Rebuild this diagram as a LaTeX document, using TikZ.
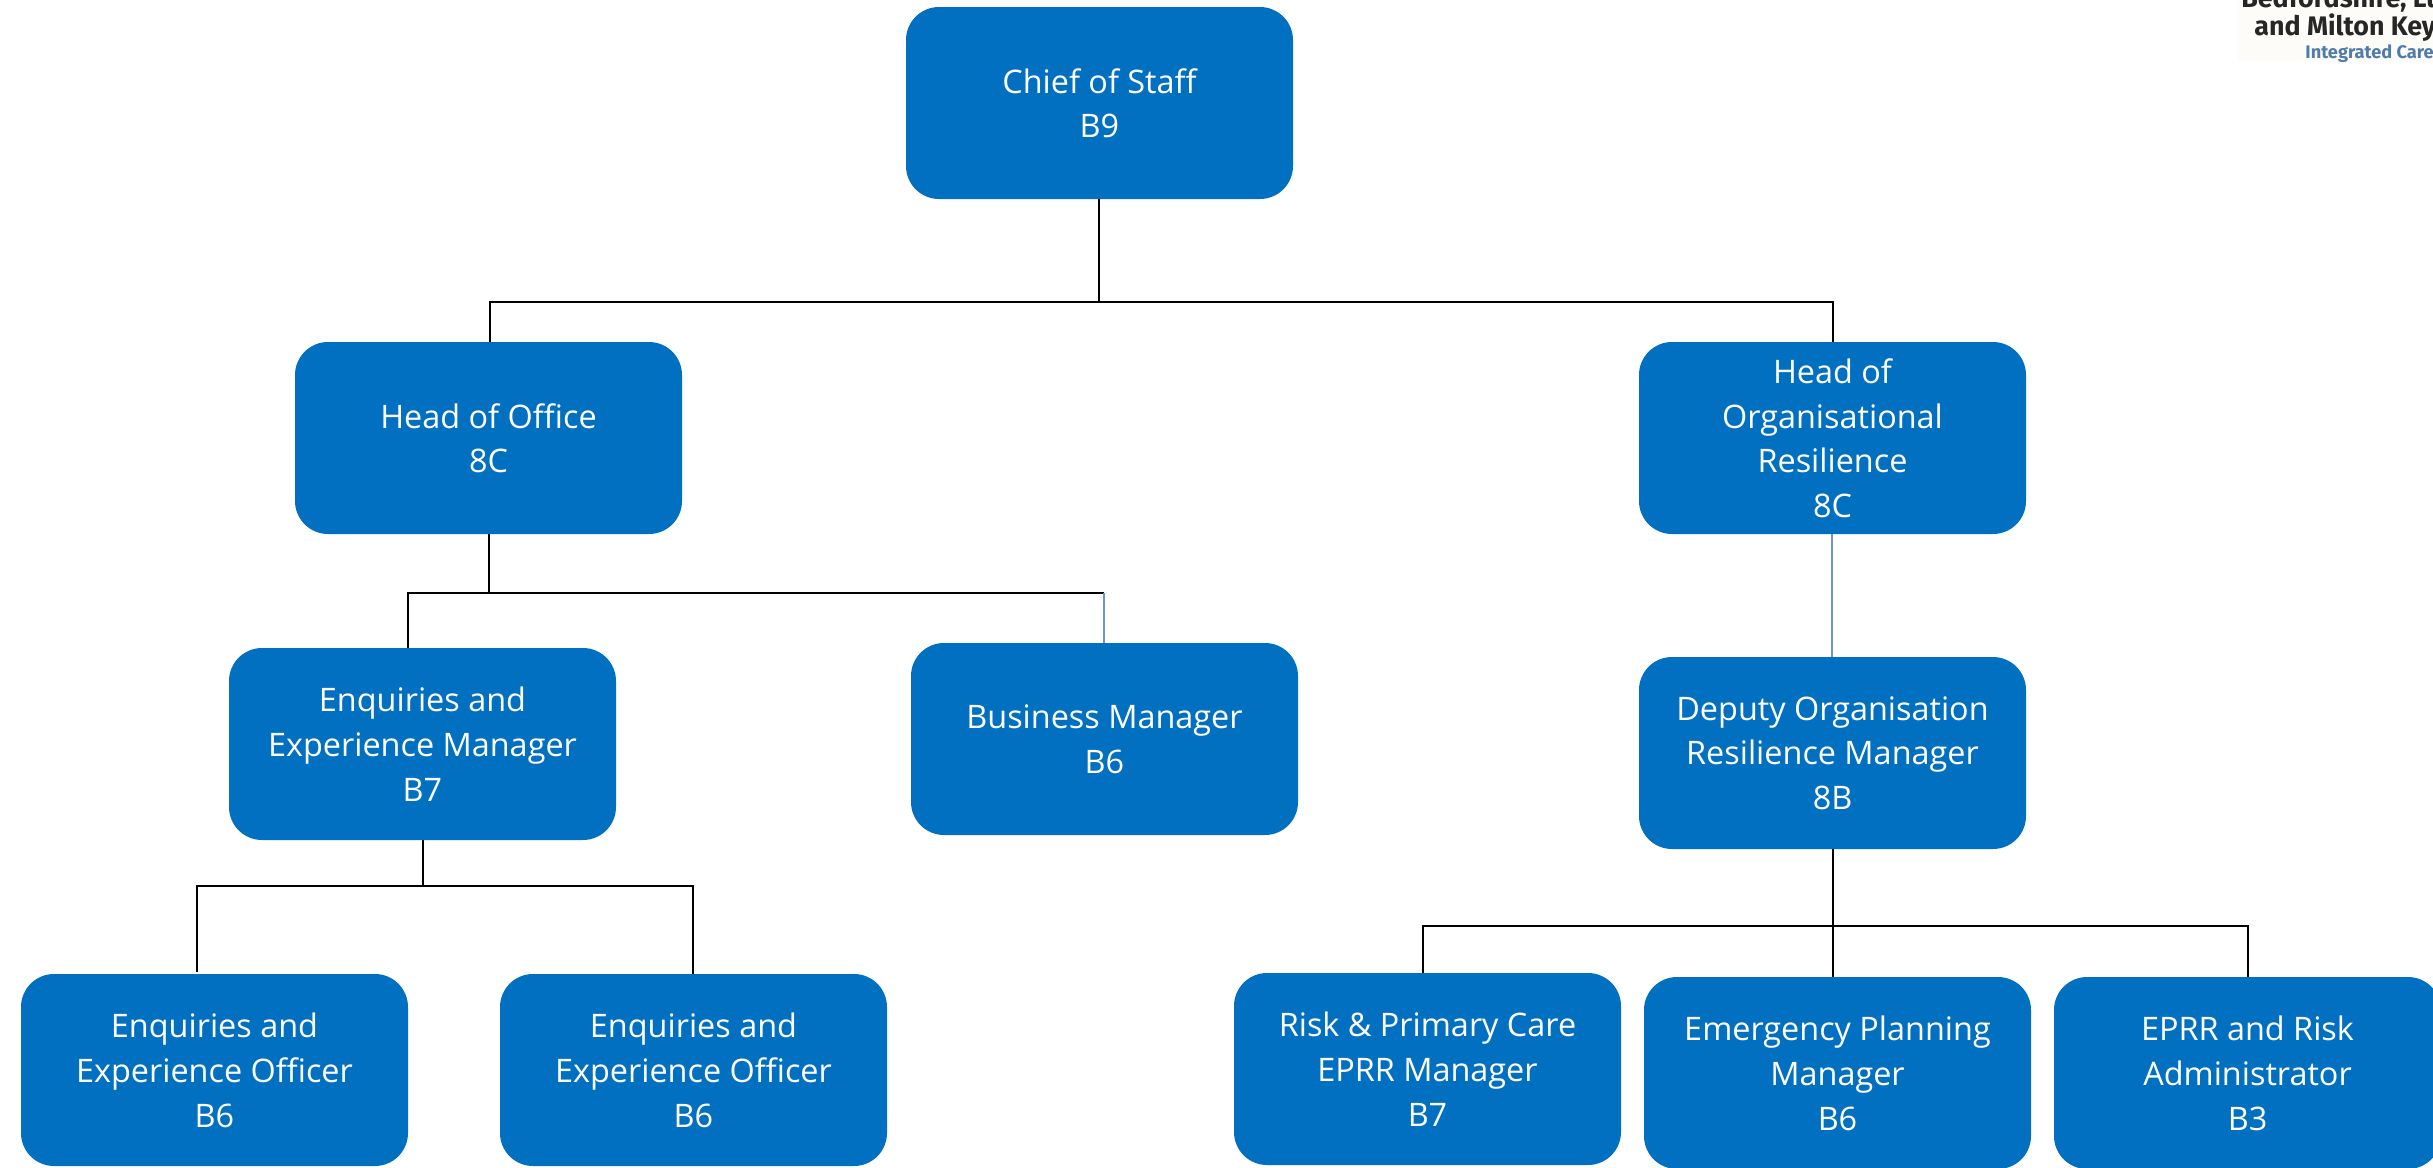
\documentclass[tikz,border=0pt]{standalone}
\usepackage{fontspec}
\setmainfont{Open Sans}
\newfontfamily\logofont{Fira Sans}
\definecolor{boxblue}{HTML}{0170C1}
\definecolor{linkblue}{HTML}{6F93D6}
\definecolor{logoblue}{HTML}{4F7CAC}
\definecolor{logobg}{HTML}{FDFCF9}
\tikzset{
  orgbox/.style={fill=boxblue,text=white,rounded corners=16.5pt,minimum width=193.5pt,minimum height=96pt,
    inner sep=0pt,align=center,text depth=-2.6pt,
    font=\fontsize{16.2}{22.35}\selectfont},
  conn/.style={draw=black,line width=0.75pt},
  bluelink/.style={draw=linkblue,line width=0.75pt},
  logotext/.style={anchor=base west,inner sep=0pt,font=\logofont\bfseries\fontsize{13.4}{15}\selectfont,text=black!85},
}
\begin{document}
\begin{tikzpicture}[x=0.5pt,y=-0.5pt]
\clip (0,0) rectangle (2433,1168);
\useasboundingbox (0,0) rectangle (2433,1168);
% logo remnant
\fill[logobg] (2238,0) rectangle (2433,62);
\node[logotext] (logoa) at (2241,7) {Bedfordshire, Lu};
\node[logotext] (logob) at (2254,35) {and Milton Key};
\node[logotext,font=\logofont\bfseries\fontsize{9.1}{10}\selectfont,text=logoblue] (logoc) at (2305,58) {Integrated Care};
% boxes
\node[orgbox] (chief) at (1099.5,103) {Chief of Staff\\B9};
\node[orgbox] (hoo) at (488.5,438) {Head of Office\\8C};
\node[orgbox] (hoor) at (1832.5,438) {Head of\\Organisational\\Resilience\\8C};
\node[orgbox] (mgr) at (422.5,744) {Enquiries and\\Experience Manager\\B7};
\node[orgbox] (bus) at (1104.5,739) {Business Manager\\B6};
\node[orgbox] (dep) at (1832.5,753) {Deputy Organisation\\Resilience Manager\\8B};
\node[orgbox] (offa) at (214.5,1070) {Enquiries and\\Experience Officer\\B6};
\node[orgbox] (offb) at (693.5,1070) {Enquiries and\\Experience Officer\\B6};
\node[orgbox] (risk) at (1427.5,1069) {Risk \& Primary Care\\EPRR Manager\\B7};
\node[orgbox] (emer) at (1837.5,1073) {Emergency Planning\\Manager\\B6};
\node[orgbox] (eprr) at (2247.5,1073) {EPRR and Risk\\Administrator\\B3};
% junction coordinates
\coordinate (ja) at (490,302);
\coordinate (jb) at (1833,302);
\coordinate (jt) at (1099,302);
\coordinate (jc) at (408,593);
\coordinate (jd) at (1104,593);
\coordinate (ju) at (489,593);
\coordinate (je) at (197,886);
\coordinate (jf) at (693,886);
\coordinate (jv) at (423,886);
\coordinate (jg) at (1423,926);
\coordinate (jh) at (2248,926);
\coordinate (ji) at (1833,926);
\coordinate (jw) at (1832,600);
% connectors
\draw[conn] (jt |- chief.south) -- (jt);
\draw[conn] (ja |- hoo.north) -- (ja) -- (jb) -- (jb |- hoor.north);
\draw[conn] (ju |- hoo.south) -- (ju);
\draw[conn] (jc |- mgr.north) -- (jc) -- (jd);
\draw[bluelink] (jd) -- (jd |- bus.north);
\draw[bluelink] (jw |- hoor.south) -- (jw |- dep.north);
\draw[conn] (jv |- mgr.south) -- (jv);
\draw[conn] ([yshift=1pt]je |- offa.north) -- (je) -- (jf) -- (jf |- offb.north);
\draw[conn] (ji |- dep.south) -- (ji |- emer.north);
\draw[conn] (jg |- risk.north) -- (jg) -- (jh) -- (jh |- eprr.north);
\end{tikzpicture}
\end{document}
